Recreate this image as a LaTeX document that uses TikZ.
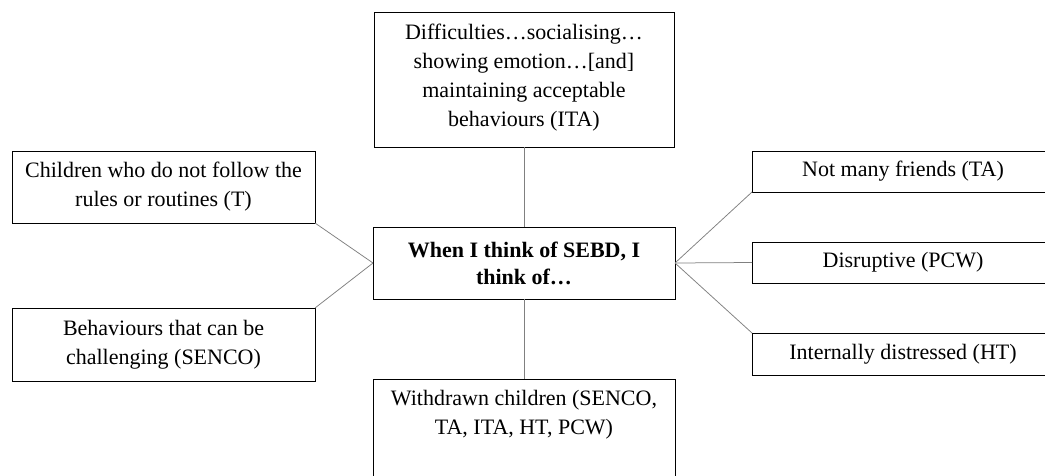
\documentclass[tikz,border=0pt]{standalone}
\usepackage{fontspec}
\setmainfont{Liberation Serif}
\begin{document}
\begin{tikzpicture}[x=1pt,y=-1pt,
  box/.style={draw=black,line width=0.75pt,rectangle,inner sep=0pt,outer sep=0pt,align=center,font=\fontsize{22}{29}\selectfont},
  link/.style={draw=gray,line width=0.75pt}]
\useasboundingbox (0,0) rectangle (1045,475);
\fill[white] (0,0) rectangle (1045,475);
% top
\node[box,minimum width=300pt,minimum height=135pt] (t) at (524,79.5)
  {\parbox[c][135pt][t]{300pt}{\centering\vspace*{12pt}Difficulties…socialising…\\ showing emotion…[and]\\ maintaining acceptable\\ behaviours (ITA)}};
% centre
\node[box,minimum width=302pt,minimum height=72pt,font=\fontsize{22}{27}\selectfont\bfseries] (c) at (524,263)
  {When I think of SEBD, I\\ think of…};
% bottom
\node[box,minimum width=302pt,minimum height=135pt] (b) at (524,446.5)
  {\parbox[c][135pt][t]{302pt}{\centering\vspace*{11pt}Withdrawn children (SENCO,\\ TA, ITA, HT, PCW)}};
% left
\node[box,minimum width=303pt,minimum height=72pt] (lt) at (163.5,187)
  {Children who do not follow the\\ rules or routines (T)};
\node[box,minimum width=303pt,minimum height=73pt] (lb) at (163.5,344.5)
  {Behaviours that can be\\ challenging (SENCO)};
% right
\node[box,minimum width=302pt,minimum height=41pt] (r1) at (903,171.5) {Not many friends (TA)};
\node[box,minimum width=302pt,minimum height=41pt] (r2) at (903,262.5) {Disruptive (PCW)};
\node[box,minimum width=302pt,minimum height=42pt] (r3) at (903,354) {Internally distressed (HT)};
% connectors
\draw[link] (t.south) -- (c.north);
\draw[link] (c.south) -- (b.north);
\draw[link] (lt.south east) -- (c.west);
\draw[link] (lb.north east) -- (c.west);
\draw[link] (c.east) -- (r1.south west);
\draw[link] (c.east) -- (r2.west);
\draw[link] (c.east) -- (r3.north west);
\end{tikzpicture}
\end{document}
